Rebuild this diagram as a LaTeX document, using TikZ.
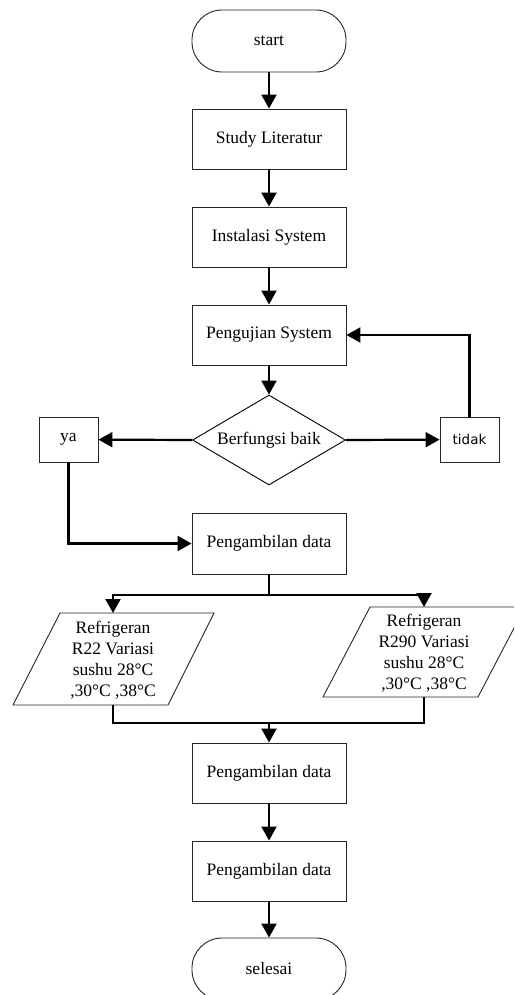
\documentclass[tikz,border=0pt]{standalone}
\usepackage{fontspec}
\setmainfont{Liberation Serif}
\newfontfamily\tidakfont{DejaVu Sans}
\usetikzlibrary{shapes.geometric,arrows.meta,calc}
\begin{document}
\begin{tikzpicture}[x=1pt,y=-1pt,
  font=\fontsize{17.5}{21}\selectfont,
  box/.style={draw=black!85,line width=0.9pt,rectangle,minimum width=154pt,minimum height=60pt,inner sep=0pt,align=center},
  term/.style={box,rounded corners=30pt,minimum height=62pt},
  small/.style={draw=black!85,line width=0.9pt,rectangle,minimum width=59pt,minimum height=45pt,inner sep=0pt},
  arr/.style={line width=2.2pt,-{Triangle[length=14pt,width=15pt]}},
  ln/.style={line width=2.2pt}]
\useasboundingbox (0,0) rectangle (514,995);
\clip (0,0) rectangle (514,995);
\node[term] (start) at (269,41) {start};
\node[box] (study) at (269,139) {Study Literatur};
\node[box] (inst) at (269,237) {Instalasi System};
\node[box] (uji) at (269,335) {Pengujian System};
\node[diamond,draw=black,line width=0.9pt,minimum width=153pt,minimum height=90pt,inner sep=0pt] (dec) at (269,440) {};
\node (dectext) at (dec.center) {Berfungsi baik};
\node[small] (ya) at (68.5,439.5) {ya};
\node[small,font=\tidakfont\fontsize{13.5}{16}\selectfont] (tidak) at (469.5,439.5) {tidak};
\node[box,minimum height=61pt] (pd1) at (269,543.5) {Pengambilan data};
% parallelograms
\coordinate (pLtl) at (60,613); \coordinate (pLtr) at (214,613);
\coordinate (pLbr) at (168,705); \coordinate (pLbl) at (13,705);
\draw[draw=black!85,line width=0.9pt] (pLtl) -- (pLtr) -- (pLbr) -- (pLbl) -- cycle;
\node[align=center] (pL) at (113,660) {Refrigeran\\R22 Variasi\\sushu 28°C\\,30°C ,38°C};
\coordinate (pRtl) at (370,607); \coordinate (pRtr) at (525,607);
\coordinate (pRbr) at (478,697); \coordinate (pRbl) at (323,697);
\draw[draw=black!85,line width=0.9pt] (pRtl) -- (pRtr) -- (pRbr) -- (pRbl) -- cycle;
\node[align=center] (pR) at (424,653) {Refrigeran\\R290 Variasi\\sushu 28°C\\,30°C ,38°C};
\coordinate (pLtop) at (113,613);
\coordinate (pRtop) at (424,607);
\coordinate (pLbot) at (113,705);
\coordinate (pRbot) at (424,697);
\coordinate (split) at (269,595);
\coordinate (merge) at (269,723);
\node[box] (pd2) at (269,773) {Pengambilan data};
\node[box] (pd3) at (269,871) {Pengambilan data};
\node[term] (end) at (269,969) {selesai};
% connectors
\draw[arr] (start) -- (study);
\draw[arr] (study) -- (inst);
\draw[arr] (inst) -- (uji);
\draw[arr] (uji) -- (dec.north);
\draw[arr] (dec.west) -- (ya);
\draw[arr] (dec.east) -- (tidak);
\draw[arr] (tidak.north) |- (uji.east);
\draw[arr] (ya.south) |- (pd1.west);
\draw[ln] (pd1.south) -- (split);
\draw[arr] (split) -| (pLtop);
\draw[arr] (split) -| (pRtop);
\draw[ln] (pLbot) |- (merge) -| (pRbot);
\draw[arr] (merge) -- (pd2);
\draw[arr] (pd2) -- (pd3);
\draw[arr] (pd3) -- (end);
\end{tikzpicture}
\end{document}
